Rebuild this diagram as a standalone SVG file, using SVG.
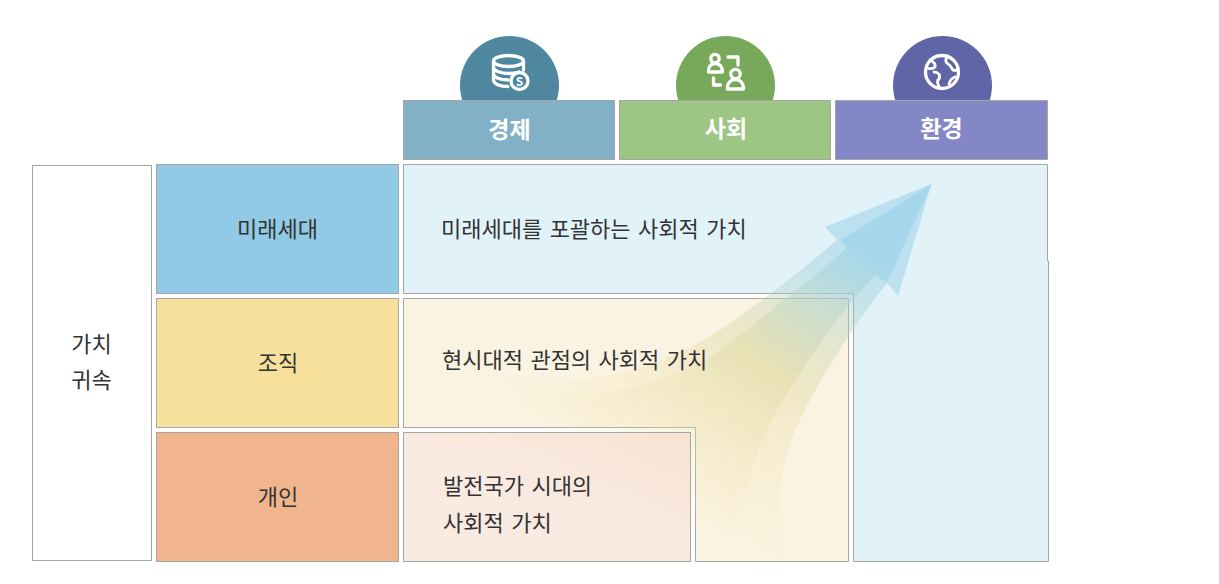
<svg xmlns="http://www.w3.org/2000/svg" width="1219" height="584" viewBox="0 0 1219 584">
<style>
text{font-family:"Noto Sans CJK KR","Noto Sans",sans-serif;fill:#333;font-size:22px}
.m{text-anchor:middle}
.s{word-spacing:2.500px}
.h{fill:#fff;font-weight:700;font-size:23px;text-anchor:middle}
.b{stroke:#a6a6a6;stroke-width:1}
.i{fill:none;stroke:#fff;stroke-width:3.300;stroke-linecap:round;stroke-linejoin:round}
</style>
<defs>
<linearGradient id="arrow" gradientUnits="userSpaceOnUse" x1="931" y1="184" x2="704" y2="537">
<stop offset="0" stop-color="#8ccbe6" stop-opacity=".45"/>
<stop offset=".22" stop-color="#8ccbe6" stop-opacity=".45"/>
<stop offset=".36" stop-color="#a9d0cc" stop-opacity=".4"/>
<stop offset=".58" stop-color="#d9d394" stop-opacity=".35"/>
<stop offset=".8" stop-color="#ecdfa6" stop-opacity=".2"/>
<stop offset="1" stop-color="#f3e3b0" stop-opacity="0"/>
</linearGradient>
<linearGradient id="pink" x1="1" y1="0" x2="0" y2="1">
<stop offset="0" stop-color="#f7e3d2"/><stop offset=".55" stop-color="#f9eae2"/>
</linearGradient>
</defs>
<g id="icon-circles">
<circle cx="509.500" cy="85.500" r="49.500" fill="#4f86a0"/>
<circle cx="725.500" cy="85.500" r="49.500" fill="#78a85a"/>
<circle cx="942.500" cy="85.500" r="49.500" fill="#5f65a6"/>
</g>
<g id="icon-economy" class="i">
<ellipse cx="508.500" cy="61" rx="15" ry="5.500"/>
<path d="M493.500,61V80C493.500,84 500,86.500 508,86.500M523.500,61V70M493.500,67.500C494,71 501,73.500 508.500,73.500C512,73.500 516,73 519,72M493.500,74C494,77.500 500,80 508,80"/>
<circle cx="519.500" cy="81" r="8.500" fill="#4f86a0"/>
<text x="519.500" y="85.500" class="m" style="fill:#fff;font-size:12px;font-weight:700;stroke:none">S</text>
</g>
<g id="icon-society" class="i">
<circle cx="715" cy="58.500" r="4.200"/>
<path d="M708.500,72C708,66.500 711,63.500 715,63.500C719.500,63.500 722.500,66.500 722.500,72Z"/>
<path d="M728,57H738V65M713.500,78V85H720.500"/>
<circle cx="735.500" cy="74" r="4.700"/>
<path d="M727.500,89C727,82.500 731,79.500 735.500,79.500C740,79.500 743.500,82.500 743.500,89Z"/>
</g>
<g id="icon-environment" class="i">
<circle cx="942" cy="72" r="16.500"/>
<path d="M930,60C934,62 936,64 935,67C933,69 929,69 927,68M948,56C945,59 945,62 948,64C951,65 951,68 953,70C955,71 957,70 958,69M934,72C938,72 941,75 939,79C936,81 938,85 940,88M955,77C952,78 950,80 949,84" stroke-width="2.800"/>
</g>
<g id="header-economy"><rect class="b" x="403.500" y="100.500" width="211" height="59" fill="#82b0c7"/><text class="h" x="509.500" y="138">경제</text></g>
<g id="header-society"><rect class="b" x="619.500" y="100.500" width="211" height="59" fill="#9dc583"/><text class="h" x="726" y="137">사회</text></g>
<g id="header-environment"><rect class="b" x="835.500" y="100.500" width="212" height="59" fill="#8387c5"/><text class="h" x="941.500" y="137">환경</text></g>
<g id="value-attribution"><rect class="b" x="32.500" y="165.500" width="119" height="395" fill="#fff"/>
<text class="m" x="91.500" y="352">가치</text><text class="m" x="91.500" y="388">귀속</text></g>
<g id="row-future"><rect class="b" x="156.500" y="164.500" width="242" height="129" fill="#90cae5"/><text class="m" x="277.500" y="237">미래세대</text></g>
<g id="row-org"><rect class="b" x="156.500" y="298.500" width="242" height="129" fill="#f7df9c"/><text class="m" x="278" y="371">조직</text></g>
<g id="row-person"><rect class="b" x="156.500" y="432.500" width="242" height="129" fill="#f0b58d"/><text class="m" x="278" y="505">개인</text></g>
<g id="panel-future"><path class="b" d="M403.500,164.500H1047.500V261H1048.500V561.500H853.500V293.500H403.500Z" fill="#e1f2f9"/></g>
<g id="panel-present"><path class="b" d="M403.500,298.500H848.500V561.500H695.500V427.500H403.500Z" fill="#fbf3e1"/></g>
<g id="connectors">
<path fill="url(#arrow)" d="M931.500,184L825,227L837,240C800,272 760,303 720,330C670,364 600,384 530,382C490,381 450,372 403,355V561H735C738,525 745,490 760,447C775,405 825,330 875,275L887,283Z"/>
<path fill="url(#arrow)" d="M931.500,184L841,240L847,248C822,270 800,288 780,303C760,320 740,335 720,350C680,380 610,400 520,395C480,392 440,380 403,365V561H780C775,525 778,485 790,445C805,400 850,330 887,283L898,296Z"/>
</g>
<g id="panel-developed"><rect class="b" x="403.500" y="432.500" width="287" height="129" fill="url(#pink)"/></g>
<g id="panel-labels">
<text class="s" x="441" y="237">미래세대를 포괄하는 사회적 가치</text>
<text class="s" x="442" y="368">현시대적 관점의 사회적 가치</text>
<text class="s" x="443" y="494">발전국가 시대의</text>
<text class="s" x="443" y="531">사회적 가치</text>
</g>
</svg>
